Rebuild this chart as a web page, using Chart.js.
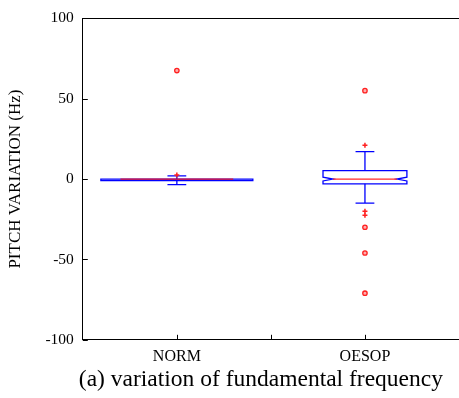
<!DOCTYPE html>
<html>
<head>
<meta charset="utf-8">
<script src="https://cdn.jsdelivr.net/npm/chart.js@4.4.1/dist/chart.umd.min.js"></script>
<style>
html,body{margin:0;padding:0;background:#fff;}
#wrap{width:459px;height:398px;}
</style>
</head>
<body>
<div id="wrap"><canvas id="c" width="459" height="398"></canvas></div>
<script>
// ---- data ----
const categories = ['NORM', 'OESOP'];
const q1Values = [-1, -3];
const medianValues = [0, 0];
const q3Values = [0, 5.3];
const whiskerLow = [-3.5, -15];
const whiskerHigh = [2, 17];
const notchLow = [-0.5, -1.2];
const notchHigh = [0.5, 1.2];
const circleOutliers = [[67.5], [55, -30, -46, -71]];
const crossOutliers = [[2.5], [21, -20, -22.5]];
const yTicks = [-100, -50, 0, 50, 100];
const xTickPositions = [1, 1.5, 2];
const captionText = '(a) variation of fundamental frequency';

// style (not data)
const boxHalfWidth = [0.404, 0.223];
const medianHalfWidth = [0.30, 0.17];
const notchDepth = [0, 0.053];
const capHalfWidth = 0.05;
const FONT = '"Liberation Serif", "Times New Roman", serif';

const circleData = [];
circleOutliers.forEach((arr, i) => arr.forEach(v => circleData.push({x: i + 1, y: v})));
const crossData = [];
crossOutliers.forEach((arr, i) => arr.forEach(v => crossData.push({x: i + 1, y: v})));

const boxPlugin = {
  id: 'boxPlugin',
  beforeDatasetsDraw(chart) {
    const ctx = chart.ctx;
    const xs = chart.scales.x, ys = chart.scales.y;
    const ca = chart.chartArea;
    ctx.save();
    // frame: top line
    ctx.strokeStyle = '#000';
    ctx.lineWidth = 1;
    ctx.beginPath();
    ctx.moveTo(ca.left, Math.round(ca.top) + 0.5);
    ctx.lineTo(ca.right, Math.round(ca.top) + 0.5);
    ctx.stroke();
    // inward ticks
    ctx.beginPath();
    yTicks.forEach(v => {
      const y = Math.round(ys.getPixelForValue(v)) + 0.5;
      ctx.moveTo(ca.left, y); ctx.lineTo(ca.left + 5, y);
    });
    xTickPositions.forEach(v => {
      const x = Math.round(xs.getPixelForValue(v)) + 0.5;
      ctx.moveTo(x, ca.bottom); ctx.lineTo(x, ca.bottom - 5);
    });
    ctx.stroke();

    categories.forEach((c, i) => {
      const cx = xs.getPixelForValue(i + 1);
      const px = d => xs.getPixelForValue(i + 1 + d);
      const yq1 = ys.getPixelForValue(q1Values[i]);
      const yq3 = ys.getPixelForValue(q3Values[i]);
      const ymed = ys.getPixelForValue(medianValues[i]);
      const ynl = ys.getPixelForValue(notchLow[i]);
      const ynh = ys.getPixelForValue(notchHigh[i]);
      const ywl = ys.getPixelForValue(whiskerLow[i]);
      const ywh = ys.getPixelForValue(whiskerHigh[i]);
      const w = boxHalfWidth[i], n = notchDepth[i];
      ctx.strokeStyle = '#0000ff';
      ctx.lineWidth = 1.3;
      // whiskers
      ctx.beginPath();
      ctx.moveTo(cx, yq3); ctx.lineTo(cx, ywh);
      ctx.moveTo(cx, yq1); ctx.lineTo(cx, ywl);
      ctx.moveTo(px(-capHalfWidth), ywh); ctx.lineTo(px(capHalfWidth), ywh);
      ctx.moveTo(px(-capHalfWidth), ywl); ctx.lineTo(px(capHalfWidth), ywl);
      ctx.stroke();
      // notched box
      ctx.beginPath();
      if (n > 0) {
        ctx.moveTo(px(-w), yq3);
        ctx.lineTo(px(w), yq3);
        ctx.lineTo(px(w), ynh);
        ctx.lineTo(px(w - n), ymed);
        ctx.lineTo(px(w), ynl);
        ctx.lineTo(px(w), yq1);
        ctx.lineTo(px(-w), yq1);
        ctx.lineTo(px(-w), ynl);
        ctx.lineTo(px(-w + n), ymed);
        ctx.lineTo(px(-w), ynh);
        ctx.closePath();
      } else {
        ctx.rect(px(-w), yq3, px(w) - px(-w), yq1 - yq3);
      }
      ctx.stroke();
      // median
      ctx.strokeStyle = 'rgba(255,0,0,0.85)';
      ctx.lineWidth = 1.3;
      const mw = n > 0 ? (w - n) : medianHalfWidth[i];
      ctx.beginPath();
      ctx.moveTo(px(-mw), ymed); ctx.lineTo(px(mw), ymed);
      ctx.stroke();
    });
    ctx.restore();
  },
  afterDraw(chart) {
    const ctx = chart.ctx;
    const ca = chart.chartArea;
    ctx.save();
    ctx.fillStyle = '#000';
    ctx.font = '23.5px ' + FONT;
    ctx.textAlign = 'center';
    ctx.textBaseline = 'middle';
    ctx.fillText(captionText, (ca.left + ca.right) / 2 - 10, 380);
    ctx.restore();
  }
};

new Chart(document.getElementById('c'), {
  type: 'scatter',
  data: {
    datasets: [
      {
        label: 'outliers (o)',
        data: circleData,
        pointStyle: 'circle',
        pointRadius: 2.2,
        borderColor: '#ff2020',
        backgroundColor: 'rgba(255,120,120,0.6)',
        borderWidth: 1.3
      },
      {
        label: 'outliers (+)',
        data: crossData,
        pointStyle: 'cross',
        pointRadius: 2.5,
        borderColor: '#ff2020',
        borderWidth: 1.5
      }
    ]
  },
  options: {
    responsive: false,
    animation: false,
    events: [],
    layout: {autoPadding: false, padding: {top: 6, right: 0, left: 5, bottom: 25}},
    plugins: {
      legend: {display: false},
      tooltip: {enabled: false},
      title: {display: false}
    },
    scales: {
      x: {
        type: 'linear',
        min: 0.5,
        max: 2.5,
        afterBuildTicks: s => { s.ticks = xTickPositions.map(v => ({value: v})); },
        afterFit: s => { s.paddingRight = 0; s.paddingLeft = 0; },
        grid: {display: false, drawTicks: false},
        border: {display: true, color: '#000', width: 1},
        ticks: {
          color: '#000',
          font: {family: FONT, size: 16},
          padding: 7,
          maxRotation: 0,
          autoSkip: false,
          callback: v => (v === 1 ? categories[0] : v === 2 ? categories[1] : '')
        }
      },
      y: {
        min: -100,
        max: 100,
        afterBuildTicks: s => { s.ticks = yTicks.map(v => ({value: v})); },
        grid: {display: false, drawTicks: false},
        border: {display: true, color: '#000', width: 1},
        ticks: {
          color: '#000',
          font: {family: FONT, size: 15.5},
          padding: 9
        },
        title: {
          display: true,
          text: 'PITCH VARIATION (Hz)',
          color: '#000',
          font: {family: FONT, size: 17},
          padding: {top: 0, bottom: 11}
        }
      }
    }
  },
  plugins: [boxPlugin]
});
</script>
</body>
</html>
